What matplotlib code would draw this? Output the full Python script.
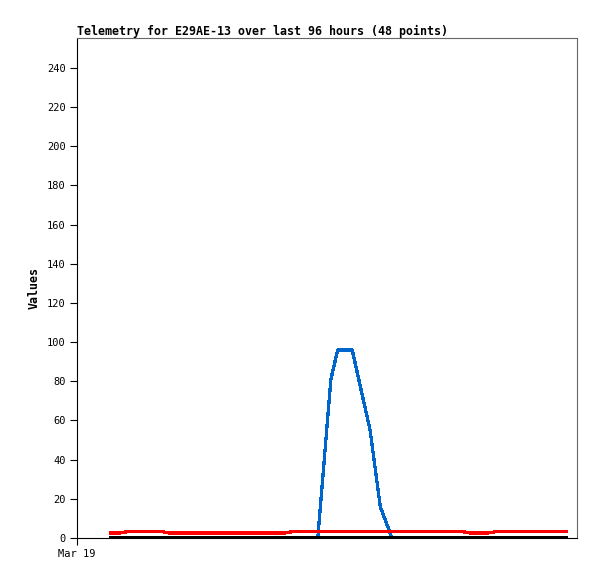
import matplotlib
matplotlib.use("Agg")
import matplotlib.pyplot as plt
import numpy as np

plt.rcParams['font.family'] = ['DejaVu Sans Mono']

# hours after Mar 19 00:00, one point every 2 hours (48 points)
hours = np.arange(48) * 2 + 7

# red series: low / high levels
lo = 2.6
hi = 3.5
red = ([lo] * 2 + [hi] * 4 + [lo] * 13 + [hi] * 18 + [lo] * 3 + [hi] * 8)

# black series: all zero
black = [0] * 48

# blue series: a single spike (own timestamps)
blue_hours = [49.7, 52.4, 53.8, 56.8, 60.5, 62.6, 65.0]
blue = [0, 81, 96, 96, 55, 16, 0]

title = "Telemetry for E29AE-13 over last 96 hours (48 points)"
yticks = list(range(0, 241, 20))

fig = plt.figure(figsize=(5.97, 5.79), dpi=100)
ax = fig.add_axes([77 / 597, 41 / 579, 500 / 597, 500 / 579])

ax.plot(blue_hours, blue, color='#0066cc', lw=1.6, antialiased=False, zorder=2)
ax.plot(hours, red, color='#ff0000', lw=1.6, antialiased=False, zorder=3)
ax.plot(hours, black, color='#000000', lw=1.6, antialiased=False, zorder=4)

ax.set_xlim(0, 103.2)
ax.set_ylim(0, 255.3)
ax.set_yticks(yticks)
ax.set_xticks([0])
ax.set_xticklabels(["Mar 19"])

ax.tick_params(axis='both', direction='out', length=5, width=0.8,
               labelsize=7.5, pad=3, colors='black')

for s in ['top', 'right']:
    ax.spines[s].set_color('#666666')
for s in ['left', 'bottom']:
    ax.spines[s].set_color('black')
for s in ax.spines.values():
    s.set_linewidth(0.8)

ax.set_ylabel("Values", fontsize=8.4, fontweight='bold', labelpad=5)
ax.set_title(title, loc='left', fontsize=8.4, fontweight='bold', pad=2)

fig.savefig("out.png", dpi=100, facecolor='white')
